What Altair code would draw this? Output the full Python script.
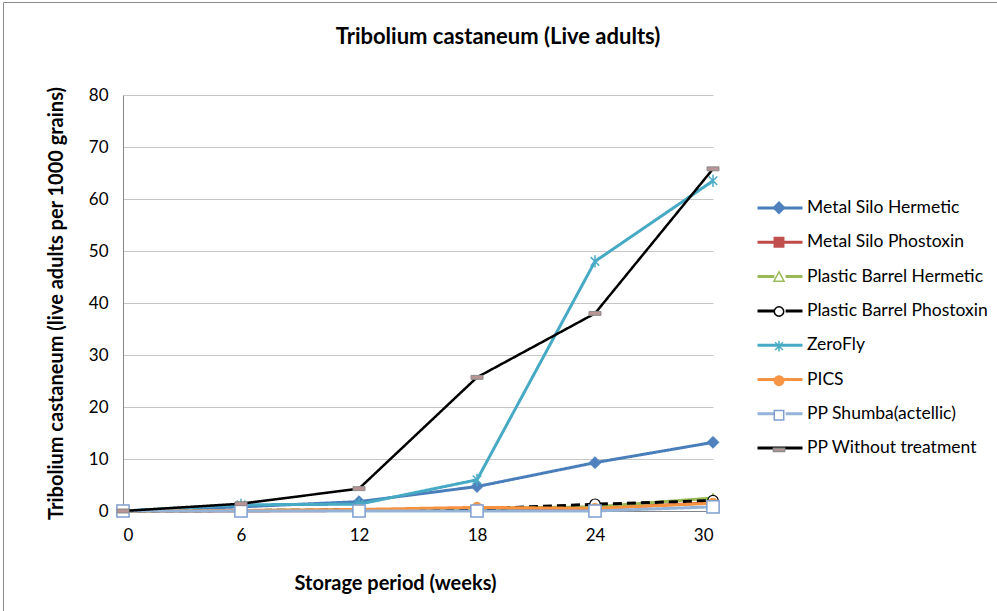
import altair as alt
import pandas as pd

# Storage period (weeks) and live adult counts per 1000 grains for each storage method
weeks = [0, 6, 12, 18, 24, 30]
series_names = [
    "Metal Silo Hermetic",
    "Metal Silo Phostoxin",
    "Plastic Barrel Hermetic",
    "Plastic Barrel Phostoxin",
    "ZeroFly",
    "PICS",
    "PP Shumba(actellic)",
    "PP Without treatment",
]
metal_silo_hermetic = [0, 0.8, 1.8, 4.7, 9.3, 13.2]
metal_silo_phostoxin = [0, 0.0, 0.1, 0.3, 0.5, 1.6]
plastic_barrel_hermetic = [0, 0.1, 0.2, 0.5, 0.8, 2.5]
plastic_barrel_phostoxin = [0, 0.1, 0.2, 0.4, 1.3, 2.0]
zerofly = [0, 1.2, 1.3, 6.0, 48.0, 63.5]
pics = [0, 0.1, 0.3, 0.7, 0.5, 1.5]
pp_shumba = [0, 0.0, 0.0, 0.0, 0.0, 0.8]
pp_without_treatment = [0, 1.4, 4.3, 25.7, 38.0, 65.8]

values = [
    metal_silo_hermetic,
    metal_silo_phostoxin,
    plastic_barrel_hermetic,
    plastic_barrel_phostoxin,
    zerofly,
    pics,
    pp_shumba,
    pp_without_treatment,
]

rows = []
for name, vals in zip(series_names, values):
    for w, v in zip(weeks, vals):
        rows.append({"series": name, "week": w, "count": v})
df = pd.DataFrame(rows)

FONT = "Lato"

# Per-series styling: line colour, dash, marker shape/size/fill/stroke
line_colors = ["#4a7ebb", "#be4b48", "#98b954", "#000000", "#46aac5", "#f69240", "#95b3d7", "#000000"]
line_widths = [3, 3, 3, 3, 3, 3, 3, 2.5]
line_dashes = [[1, 0], [1, 0], [1, 0], [9, 5], [1, 0], [1, 0], [1, 0], [1, 0]]

ASTERISK = "M-0.7,-0.7L0.7,0.7M-0.7,0.7L0.7,-0.7M0,-1V1"
DASH = "M-1,-0.33H1V0.33H-1Z"
marker_shapes = ["diamond", "square", "triangle-up", "circle", ASTERISK, "circle", "square", DASH]
marker_sizes = [140, 80, 100, 110, 150, 100, 150, 144]
marker_fills = ["#4f81bd", "#c0504d", "#ffffff", "#ffffff", "transparent", "#f79646", "#ffffff", "#b89494"]
marker_strokes = ["#4f81bd", "#c0504d", "#9bbb59", "#000000", "#4bacc6", "#f79646", "#7f9fd0", "#8c8c8c"]
marker_stroke_widths = [1, 1, 1.2, 1.2, 1.5, 1, 1.5, 1]

x_enc = alt.X(
    "week:Q",
    scale=alt.Scale(domain=[0, 30], nice=False),
    axis=alt.Axis(
        values=weeks,
        title="Storage period (weeks)",
        grid=False,
        ticks=False,
        tickSize=0,
        labelPadding=16,
        titlePadding=30,
        titleX=272,
    ),
)
y_enc = alt.Y(
    "count:Q",
    scale=alt.Scale(domain=[0, 80], nice=False),
    axis=alt.Axis(
        values=list(range(0, 81, 10)),
        title="Tribolium castaneum (live adults per 1000 grains)",
        ticks=False,
        tickSize=0,
        labelPadding=15,
        titlePadding=22,
    ),
)

layers = []
for i, name in enumerate(series_names):
    sub = alt.Chart(df).transform_filter(alt.datum.series == name)
    layers.append(
        sub.mark_line(
            color=line_colors[i],
            strokeWidth=line_widths[i],
            strokeDash=line_dashes[i],
        ).encode(x=x_enc, y=y_enc)
    )
    layers.append(
        sub.mark_point(
            shape=marker_shapes[i],
            size=marker_sizes[i],
            filled=False,
            fill=marker_fills[i],
            stroke=marker_strokes[i],
            strokeWidth=marker_stroke_widths[i],
            opacity=1,
        ).encode(x=x_enc, y=y_enc)
    )

# Legend: one legend draws the line segments with labels, a second one on top draws the markers
GAP = "M-2,0H-0.5M0.5,0H2"
FULL = "M-2,0H2"
legend_line_paths = [FULL, FULL, GAP, GAP, FULL, FULL, GAP, FULL]
legend_marker_paths = [
    "M0,-0.5L0.5,0L0,0.5L-0.5,0Z",
    "M-0.42,-0.42H0.42V0.42H-0.42Z",
    "M0,-0.45L0.45,0.38H-0.45Z",
    "M0.42,0A0.42,0.42 0 1,1 -0.42,0A0.42,0.42 0 1,1 0.42,0Z",
    "M-0.35,-0.35L0.35,0.35M-0.35,0.35L0.35,-0.35M0,-0.48V0.48",
    "M0.42,0A0.42,0.42 0 1,1 -0.42,0A0.42,0.42 0 1,1 0.42,0Z",
    "M-0.42,-0.42H0.42V0.42H-0.42Z",
    "M-0.5,-0.14H0.5V0.14H-0.5Z",
]
legend_marker_fills = ["#4f81bd", "#c0504d", "#ffffff", "#ffffff", "#4bacc6", "#f79646", "#ffffff", "#b89494"]

LEG_X = 644
LEG_Y = 100
common_legend = dict(
    orient="none",
    legendX=LEG_X,
    title=None,
    symbolSize=506,
    labelFont=FONT,
    labelFontSize=17.5,
    labelColor="#000000",
    labelOffset=14,
    labelLimit=400,
    padding=0,
)
line_legend = dict(common_legend, legendY=LEG_Y, rowPadding=12.3)
# blank labels make the marker rows a little shorter, so they get extra row padding
marker_legend = dict(common_legend, legendY=LEG_Y + 0.7, rowPadding=13.6, labelExpr="' '")

empty = alt.Chart(df).transform_filter(alt.datum.week < 0)

legend_lines = empty.mark_point(filled=False, opacity=1).encode(
    x=x_enc,
    y=y_enc,
    shape=alt.Shape(
        "series:N",
        scale=alt.Scale(domain=series_names, range=legend_line_paths),
        legend=alt.Legend(symbolStrokeWidth=3, **line_legend),
    ),
    stroke=alt.Stroke(
        "series:N",
        scale=alt.Scale(domain=series_names, range=line_colors),
        legend=alt.Legend(symbolStrokeWidth=3, **line_legend),
    ),
)

legend_markers = empty.mark_point(filled=True, opacity=1).encode(
    x=x_enc,
    y=y_enc,
    shape=alt.Shape(
        "series:N",
        scale=alt.Scale(domain=series_names, range=legend_marker_paths),
        legend=alt.Legend(symbolStrokeWidth=1.5, **marker_legend),
    ),
    fill=alt.Fill(
        "series:N",
        scale=alt.Scale(domain=series_names, range=legend_marker_fills),
        legend=alt.Legend(symbolStrokeWidth=1.5, **marker_legend),
    ),
    stroke=alt.Stroke(
        "series:N",
        scale=alt.Scale(domain=series_names, range=marker_strokes),
        legend=alt.Legend(symbolStrokeWidth=1.5, **marker_legend),
    ),
)

# Outer frame around the whole chart
frame = alt.Chart(pd.DataFrame({"k": [0]})).mark_rect(
    fill="transparent", stroke="#8c8c8c", strokeWidth=1
).encode(
    x=alt.value(-119.5),
    x2=alt.value(890),
    y=alt.value(-92.5),
    y2=alt.value(530),
)

chart = (
    alt.layer(frame, *layers, legend_lines, legend_markers)
    .resolve_scale(shape="independent", stroke="independent", fill="independent")
    .resolve_legend(shape="independent", stroke="independent", fill="independent")
    .properties(
        width=590,
        height=416,
        padding={"left": 123, "top": 95, "right": 284, "bottom": 100},
        autosize=alt.AutoSizeParams(type="none"),
        background="white",
        title=alt.TitleParams(
            "Tribolium castaneum (Live adults)",
            font=FONT,
            fontSize=22,
            fontWeight="bold",
            color="#000000",
            anchor="middle",
            dx=80,
            offset=-47,
        ),
    )
    .configure_view(strokeWidth=0)
    .configure_axis(
        labelFont=FONT,
        labelFontSize=17,
        labelColor="#000000",
        titleFont=FONT,
        titleFontSize=20,
        titleFontWeight="bold",
        titleColor="#000000",
        domainColor="#868686",
        domainWidth=1,
        gridColor="#c6c6c6",
        gridWidth=1,
    )
)

chart.save("out.html", embed_options={"renderer": "svg", "actions": False})
